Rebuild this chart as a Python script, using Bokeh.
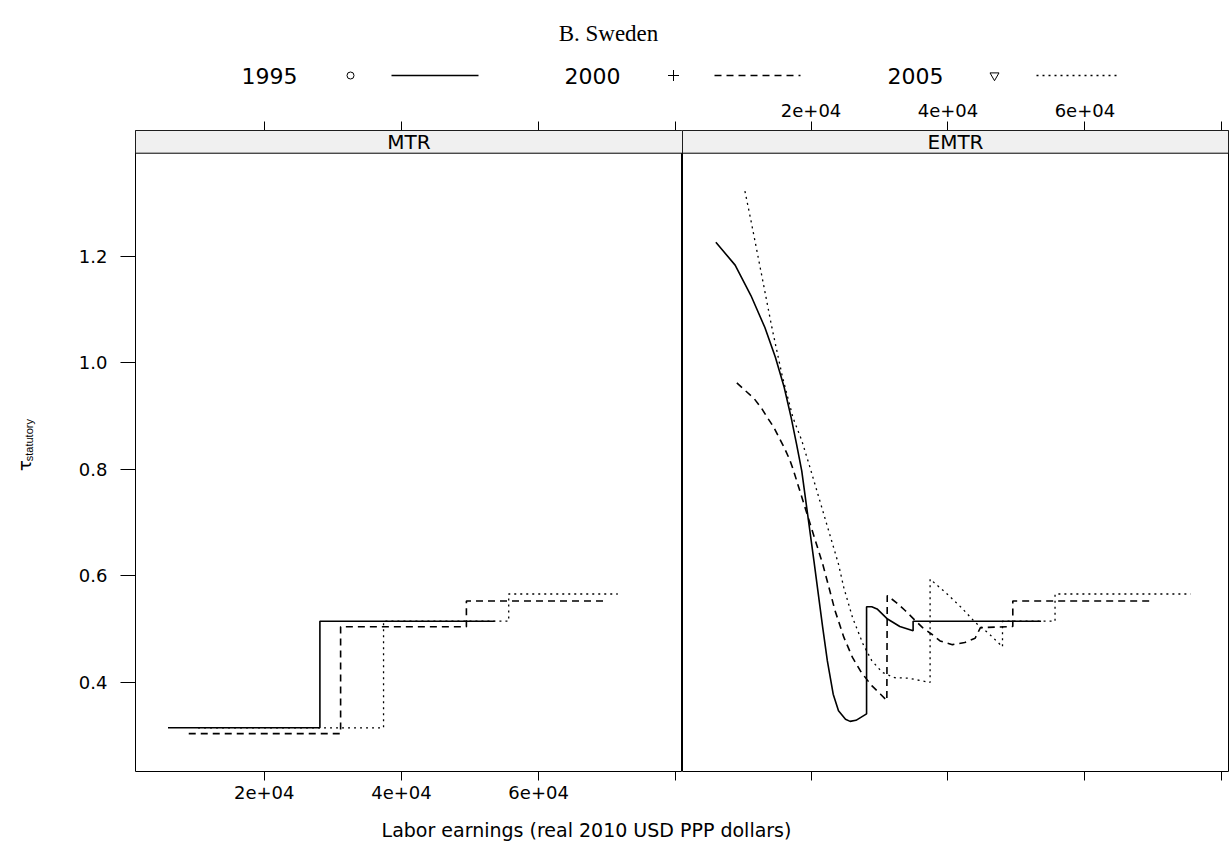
import math
from bokeh.plotting import figure
from bokeh.models import Range1d, LinearAxis, FixedTicker, BoxAnnotation, Label
from bokeh.layouts import column, row
from bokeh.embed import file_html
from bokeh.resources import INLINE
from bokeh.core.properties import value

# ---------------- data ----------------
TITLE = "B. Sweden"
YEARS = ["1995", "2000", "2005"]
PANELS = ["MTR", "EMTR"]
X_TITLE = "Labor earnings (real 2010 USD PPP dollars)"
Y_TITLE_MAIN = "τ"
Y_TITLE_SUB = "statutory"
X_TICKS = [20000, 40000, 60000, 80000]
X_TICK_LABELS = ["2e+04", "4e+04", "6e+04", ""]
Y_TICKS = [0.4, 0.6, 0.8, 1.0, 1.2]
Y_TICK_LABELS = ["0.4", "0.6", "0.8", "1.0", "1.2"]

# MTR: step functions (breakpoints, levels)
mtr_1995_x = [5966, 28110, 53600]
mtr_1995_y = [0.315, 0.515]
mtr_2000_x = [8986, 31130, 49470, 69640]
mtr_2000_y = [0.304, 0.5045, 0.553]
mtr_2005_x = [10343, 37390, 55640, 71540]
mtr_2005_y = [0.315, 0.515, 0.566]

# EMTR curves
emtr_1995_x = [6097, 8913, 11218, 13260, 14792, 16076, 17097, 17870, 18643, 20423,
               21707, 22378, 23238, 24011, 25033, 25704, 26564, 28111, 28111, 28869,
               29643, 31174, 32968, 34909, 34909, 53600]
emtr_1995_y = [1.226, 1.183, 1.126, 1.066, 1.010, 0.954, 0.897, 0.848, 0.797, 0.628,
               0.503, 0.441, 0.378, 0.347, 0.331, 0.327, 0.329, 0.341, 0.542, 0.542,
               0.538, 0.519, 0.505, 0.497, 0.515, 0.515]
emtr_2000_x = [9161, 10707, 11728, 12750, 13771, 14544, 15303, 16076, 16849, 17359,
               21707, 22480, 23501, 24785, 26054, 27338, 28869, 30153, 31072, 31130,
               32458, 33742, 35011, 36295, 37578, 38848, 40656, 42451, 43968, 44741,
               49470, 49470, 69640]
emtr_2000_y = [0.962, 0.944, 0.932, 0.915, 0.894, 0.879, 0.860, 0.841, 0.819, 0.801,
               0.622, 0.585, 0.535, 0.485, 0.447, 0.419, 0.394, 0.378, 0.366, 0.563,
               0.550, 0.535, 0.519, 0.503, 0.491, 0.478, 0.471, 0.475, 0.483, 0.503,
               0.505, 0.553, 0.553]
emtr_2005_x = [10343, 11218, 12750, 14281, 15828, 17359, 18643, 19810, 24011, 24785,
               26054, 27600, 28869, 30416, 32195, 34252, 37390, 37390, 39883, 41926,
               43968, 46025, 47966, 47966, 55640, 55640, 75450]
emtr_2005_y = [1.322, 1.267, 1.167, 1.066, 0.973, 0.897, 0.854, 0.805, 0.622, 0.578,
               0.522, 0.472, 0.441, 0.419, 0.409, 0.408, 0.400, 0.594, 0.566, 0.541,
               0.513, 0.491, 0.467, 0.515, 0.515, 0.566, 0.566]

MTR = {"1995": (mtr_1995_x, mtr_1995_y), "2000": (mtr_2000_x, mtr_2000_y), "2005": (mtr_2005_x, mtr_2005_y)}
EMTR = {"1995": (emtr_1995_x, emtr_1995_y), "2000": (emtr_2000_x, emtr_2000_y), "2005": (emtr_2005_x, emtr_2005_y)}

# ---------------- styling / layout ----------------
X_MIN, X_MAX = 1225, 80977
Y_MIN, Y_MAX = 0.233, 1.4356
STRIP_Y0 = 1.393
SANS = "DejaVu Sans"
SERIF = "Liberation Serif"
DASH = {"1995": "solid", "2000": "7 5", "2005": "2 4"}
LW = {"1995": 1.6, "2000": 1.6, "2005": 1.3}
MARK = {"1995": "circle", "2000": "cross", "2005": "inverted_triangle"}
MSIZE = {"1995": 7, "2000": 11, "2005": 9}

HEAD_H = 90
TOP_B = 40
FRAME_H = 641
BOT_B = 40
FOOT_H = 31
ROW_H = TOP_B + FRAME_H + BOT_B
YLAB_W = 45
LEFT_B = 135 - YLAB_W
FRAME_WL = 547
FRAME_WR = 546
RIGHT_B = 2
TOTAL_W = YLAB_W + LEFT_B + FRAME_WL + FRAME_WR + RIGHT_B

xr = Range1d(X_MIN, X_MAX)
yr = Range1d(Y_MIN, Y_MAX)


def x_axis(show_labels):
    labels = X_TICK_LABELS if show_labels else [""] * len(X_TICKS)
    ax = LinearAxis(ticker=FixedTicker(ticks=X_TICKS, minor_ticks=[]),
                    major_label_overrides={t: l for t, l in zip(X_TICKS, labels)})
    ax.axis_line_color = None
    ax.major_tick_out = 9
    ax.major_tick_in = 0
    ax.minor_tick_line_color = None
    ax.major_tick_line_color = "black"
    ax.major_tick_line_width = 1
    ax.major_label_text_font = SANS
    ax.major_label_text_font_size = "18px"
    ax.major_label_text_color = "black"
    ax.major_label_standoff = 5
    return ax


def panel(name, width, bl, br, data, step):
    p = figure(width=width, height=ROW_H, x_range=xr, y_range=yr,
               x_axis_type=None, y_axis_type=None, toolbar_location=None,
               output_backend="svg", min_border_left=bl, min_border_right=br,
               min_border_top=TOP_B, min_border_bottom=BOT_B)
    p.outline_line_color = "black"
    p.outline_line_width = 1
    p.background_fill_color = "white"
    p.border_fill_color = "white"
    p.add_layout(BoxAnnotation(bottom=STRIP_Y0, fill_color="#f0f0f0", fill_alpha=1,
                               line_color="black", line_width=1, line_alpha=1), "center")
    p.add_layout(Label(x=(X_MIN + X_MAX) / 2, y=(STRIP_Y0 + Y_MAX) / 2, text=name,
                       text_align="center", text_baseline="middle", text_font=SANS,
                       text_font_size="20px", text_color="black"))
    for yr_name in YEARS:
        xs, ys = data[yr_name]
        if step:
            p.step(xs, ys + [ys[-1]], mode="after", line_color="black",
                   line_dash=DASH[yr_name], line_width=LW[yr_name])
        else:
            p.line(xs, ys, line_color="black", line_dash=DASH[yr_name],
                   line_width=LW[yr_name])
    return p


left = panel(PANELS[0], LEFT_B + FRAME_WL, LEFT_B, 0, MTR, True)
right = panel(PANELS[1], FRAME_WR + RIGHT_B, 0, RIGHT_B, EMTR, False)

left.add_layout(x_axis(True), "below")
left.add_layout(x_axis(False), "above")
right.add_layout(x_axis(False), "below")
right.add_layout(x_axis(True), "above")

yax = LinearAxis(ticker=FixedTicker(ticks=Y_TICKS, minor_ticks=[]),
                 major_label_overrides={t: l for t, l in zip(Y_TICKS, Y_TICK_LABELS)})
yax.axis_line_color = None
yax.major_tick_out = 15
yax.major_tick_in = 0
yax.minor_tick_line_color = None
yax.major_tick_line_color = "black"
yax.major_label_text_font = SANS
yax.major_label_text_font_size = "18px"
yax.major_label_text_color = "black"
yax.major_label_standoff = 13
left.add_layout(yax, "left")

# ---------------- y title strip (own small canvas) ----------------
ylab = figure(width=YLAB_W, height=ROW_H, x_range=Range1d(0, YLAB_W),
              y_range=Range1d(HEAD_H + ROW_H, HEAD_H), x_axis_type=None, y_axis_type=None,
              toolbar_location=None, output_backend="svg", min_border=0)
ylab.outline_line_color = None
ylab.text(x=[24], y=[473], text=[Y_TITLE_MAIN], angle=math.pi / 2, text_font=value(SANS),
          text_font_size="18px", text_align="left", text_baseline="alphabetic",
          text_color="black")
ylab.text(x=[28], y=[462], text=[Y_TITLE_SUB], angle=math.pi / 2,
          text_font=value("Liberation Sans"), text_font_size="11px", text_align="left",
          text_baseline="alphabetic", text_color="black")

# ---------------- header: title + legend ----------------
head = figure(width=TOTAL_W, height=HEAD_H, x_range=Range1d(0, TOTAL_W),
              y_range=Range1d(HEAD_H, 0), x_axis_type=None, y_axis_type=None,
              toolbar_location=None, output_backend="svg", min_border=0)
head.outline_line_color = None
head.text(x=[608], y=[33], text=[TITLE], text_font=value(SERIF), text_font_size="23px",
          text_align="center", text_baseline="middle", text_color="black")
LEG_Y = 75
LEG_TEXT_X = [241, 564, 887]
LEG_MARK_X = [350, 673, 994]
LEG_LINE_X0 = [391, 714, 1036]
LEG_LINE_X1 = [478, 800, 1118]
head.text(x=LEG_TEXT_X, y=[LEG_Y] * 3, text=YEARS, text_font=value(SANS),
          text_font_size="22px", text_align="left", text_baseline="middle",
          text_color="black")
head.scatter(x=LEG_MARK_X, y=[LEG_Y] * 3, marker=[MARK[y] for y in YEARS],
             size=[MSIZE[y] for y in YEARS], fill_color=None, line_color="black",
             line_width=1)
for i, yname in enumerate(YEARS):
    head.line([LEG_LINE_X0[i], LEG_LINE_X1[i]], [LEG_Y, LEG_Y], line_color="black",
              line_dash=DASH[yname], line_width=LW[yname])

# ---------------- footer: x title ----------------
foot = figure(width=TOTAL_W, height=FOOT_H, x_range=Range1d(0, TOTAL_W),
              y_range=Range1d(HEAD_H + ROW_H + FOOT_H, HEAD_H + ROW_H),
              x_axis_type=None, y_axis_type=None, toolbar_location=None,
              output_backend="svg", min_border=0)
foot.outline_line_color = None
foot.text(x=[586], y=[829], text=[X_TITLE], text_font=value(SANS), text_font_size="19px",
          text_align="center", text_baseline="middle", text_color="black")

layout = column(head, row(ylab, left, right), foot)
open("out.html", "w").write(file_html(layout, INLINE))
